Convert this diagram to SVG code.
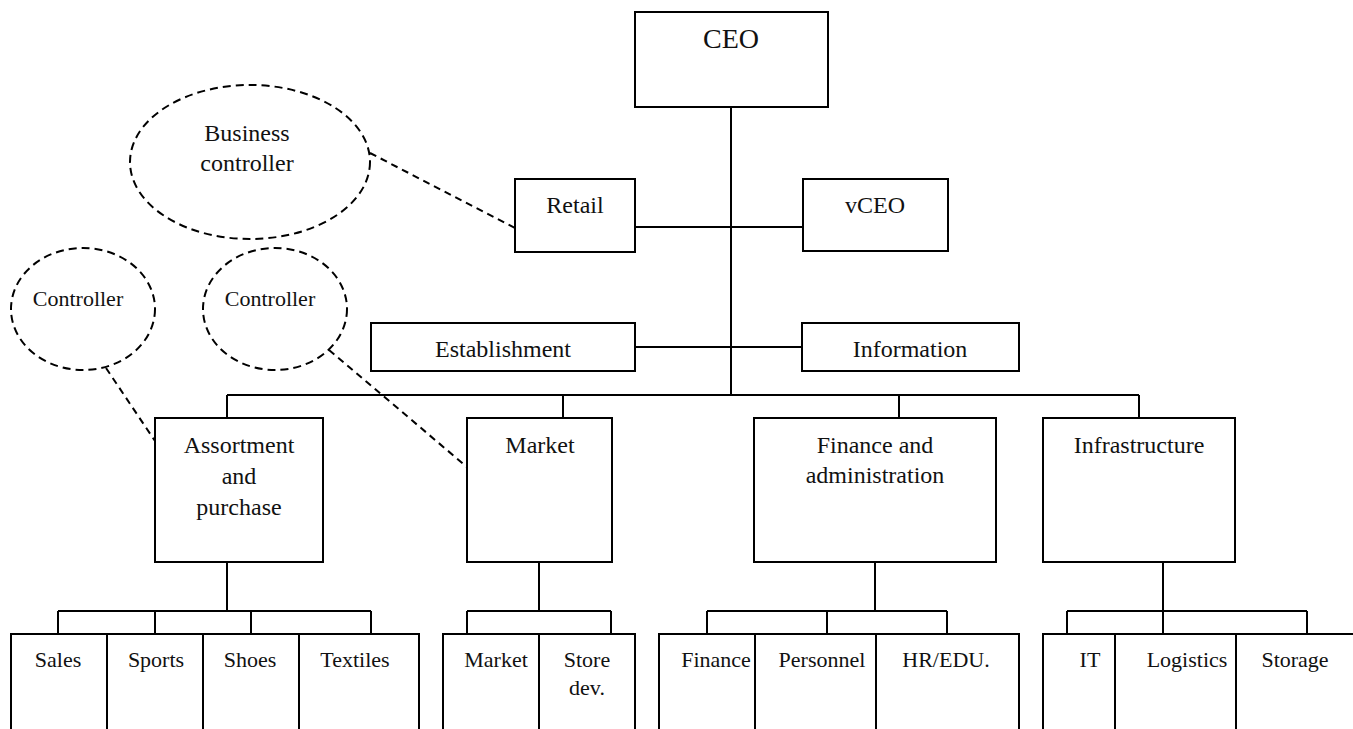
<svg xmlns="http://www.w3.org/2000/svg" width="1353" height="729" viewBox="0 0 1353 729">
<style>
.box{fill:#fff;stroke:#000;stroke-width:2}
.oval{fill:none;stroke:#000;stroke-width:2;stroke-dasharray:8 5}
.ln{fill:none;stroke:#000;stroke-width:2}
.dash{fill:none;stroke:#000;stroke-width:2;stroke-dasharray:7 5}
text{font-family:"Liberation Serif",serif;fill:#111;text-anchor:middle}
.s{font-size:22px}
.m{font-size:24px}
.l{font-size:28px}
</style>
<rect width="1353" height="729" fill="#fff"/>
<g id="connectors">
<path class="ln" d="M731 107V395M635 227H803M635 347H802M227 395H1139M227 395V418M563 395V418M899 395V418M1139 395V418"/>
<path class="ln" d="M227 562V611M58 611H371M58 611V634M155 611V634M251 611V634M371 611V634"/>
<path class="ln" d="M539 562V611M467 611H611M467 611V634M611 611V634"/>
<path class="ln" d="M875 562V611M707 611H947M707 611V634M827 611V634M947 611V634"/>
<path class="ln" d="M1163 562V611M1067 611H1307M1067 611V634M1163 611V634M1307 611V634"/>
<path class="dash" d="M370 153L515 228"/>
<path class="dash" d="M106 368L155 441"/>
<path class="dash" d="M329 350L467 467"/>
</g>
<g id="ceo"><rect class="box" x="635" y="12" width="193" height="95"/><text class="l" x="731" y="48">CEO</text></g>
<g id="retail"><rect class="box" x="515" y="179" width="120" height="73"/><text class="m" x="575" y="213">Retail</text></g>
<g id="vceo"><rect class="box" x="803" y="179" width="145" height="72"/><text class="m" x="875" y="213">vCEO</text></g>
<g id="business-controller"><ellipse class="oval" cx="250" cy="162" rx="120" ry="77"/><text class="m" x="247" y="141">Business</text><text class="m" x="247" y="171">controller</text></g>
<g id="controller1"><ellipse class="oval" cx="83" cy="309" rx="72" ry="61"/><text class="s" x="78" y="306">Controller</text></g>
<g id="controller2"><ellipse class="oval" cx="275" cy="309" rx="72" ry="61"/><text class="s" x="270" y="306">Controller</text></g>
<g id="establishment"><rect class="box" x="371" y="323" width="264" height="48"/><text class="m" x="503" y="357">Establishment</text></g>
<g id="information"><rect class="box" x="802" y="323" width="217" height="48"/><text class="m" x="910" y="357">Information</text></g>
<g id="assortment"><rect class="box" x="155" y="418" width="168" height="144"/><text class="m" x="239" y="453">Assortment</text><text class="m" x="239" y="484">and</text><text class="m" x="239" y="515">purchase</text></g>
<g id="market"><rect class="box" x="467" y="418" width="145" height="144"/><text class="m" x="540" y="453">Market</text></g>
<g id="finance-admin"><rect class="box" x="754" y="418" width="242" height="144"/><text class="m" x="875" y="453">Finance and</text><text class="m" x="875" y="483">administration</text></g>
<g id="infrastructure"><rect class="box" x="1043" y="418" width="192" height="144"/><text class="m" x="1139" y="453">Infrastructure</text></g>
<g id="sales"><rect class="box" x="11" y="634" width="96" height="110"/><text class="s" x="58" y="667">Sales</text></g>
<g id="sports"><rect class="box" x="107" y="634" width="96" height="110"/><text class="s" x="156" y="667">Sports</text></g>
<g id="shoes"><rect class="box" x="203" y="634" width="96" height="110"/><text class="s" x="250" y="667">Shoes</text></g>
<g id="textiles"><rect class="box" x="299" y="634" width="120" height="110"/><text class="s" x="355" y="667">Textiles</text></g>
<g id="market-sub"><rect class="box" x="443" y="634" width="96" height="110"/><text class="s" x="496" y="667">Market</text></g>
<g id="store-dev"><rect class="box" x="539" y="634" width="96" height="110"/><text class="s" x="587" y="667">Store</text><text class="s" x="587" y="695">dev.</text></g>
<g id="finance"><rect class="box" x="659" y="634" width="96" height="110"/><text class="s" x="716" y="667">Finance</text></g>
<g id="personnel"><rect class="box" x="755" y="634" width="121" height="110"/><text class="s" x="822" y="667">Personnel</text></g>
<g id="hr-edu"><rect class="box" x="876" y="634" width="143" height="110"/><text class="s" x="946" y="667">HR/EDU.</text></g>
<g id="it"><rect class="box" x="1043" y="634" width="72" height="110"/><text class="s" x="1090" y="667">IT</text></g>
<g id="logistics"><rect class="box" x="1115" y="634" width="121" height="110"/><text class="s" x="1187" y="667">Logistics</text></g>
<g id="storage"><rect class="box" x="1236" y="634" width="130" height="110"/><text class="s" x="1295" y="667">Storage</text></g>
</svg>
